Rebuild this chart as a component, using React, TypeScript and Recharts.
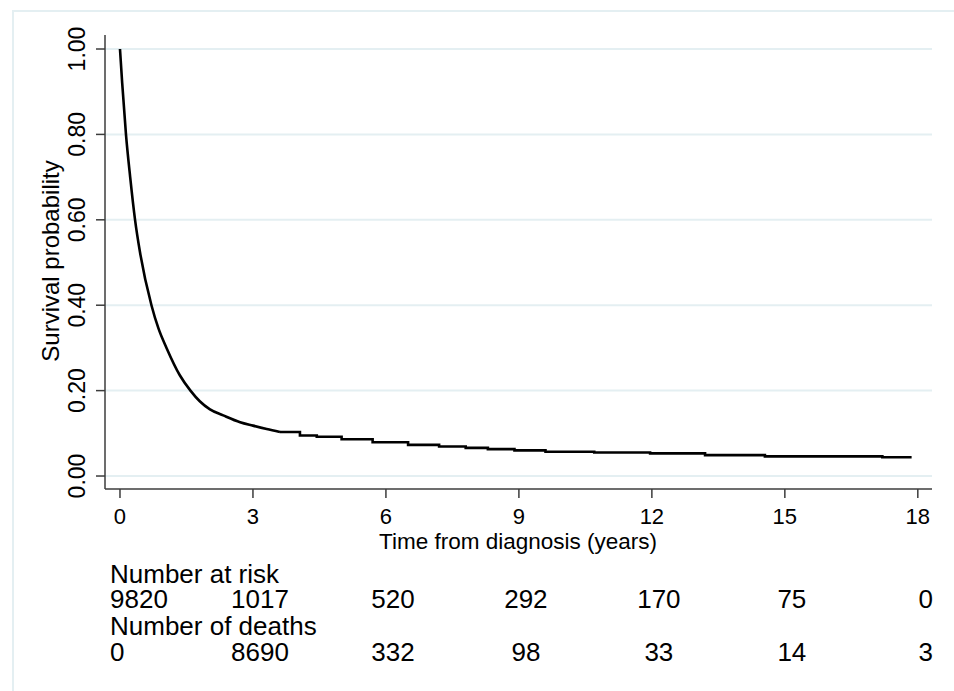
import { CartesianGrid, Line, LineChart, XAxis, YAxis } from "recharts";

// Kaplan-Meier estimate
// early part has so many small steps that it reads as a smooth curve
const earlyTimes = [0, 0.05, 0.135, 0.23, 0.34, 0.45, 0.71, 0.87, 1.05, 1.35, 1.59, 1.8, 2.03, 2.33, 2.71, 3.0, 3.31, 3.61];
const earlySurv = [1.0, 0.92, 0.8, 0.7, 0.6, 0.525, 0.4, 0.345, 0.3, 0.236, 0.2, 0.175, 0.156, 0.142, 0.126, 0.118, 0.11, 0.103];

// later part: visible steps
const tailTimes = [3.61, 4.06, 4.44, 5.0, 5.7, 6.5, 7.2, 7.8, 8.3, 8.9, 9.6, 10.7, 11.96, 13.2, 14.55, 17.2, 17.86];
const tailSurv = [0.103, 0.095, 0.092, 0.086, 0.079, 0.073, 0.069, 0.066, 0.063, 0.06, 0.057, 0.055, 0.053, 0.049, 0.046, 0.044, 0.044];

const xTicks = [0, 3, 6, 9, 12, 15, 18];
const yTicks = [0, 0.2, 0.4, 0.6, 0.8, 1.0];

const tableTimes = [0, 3, 6, 9, 12, 15, 18];
const atRisk = [9820, 1017, 520, 292, 170, 75, 0];
const deaths = [0, 8690, 332, 98, 33, 14, 3];

const earlyData = earlyTimes.map((t, i) => ({ t, s: earlySurv[i] }));
const tailData = tailTimes.map((t, i) => ({ t, s: tailSurv[i] }));

const W = 954;
const H = 691;
const PLOT_LEFT = 105;
const PLOT_RIGHT = 932;
const PLOT_TOP = 35;
const PLOT_BOTTOM = 489;
const X_DOMAIN: [number, number] = [-0.338, 18.32];
const Y_DOMAIN: [number, number] = [-0.0304, 1.0328];

const FONT = "'Liberation Sans', Arial, sans-serif";
const AXIS = "#3c3c3c";
const GRID = "#e4eff2";

const xPix = (t: number) =>
  PLOT_LEFT + ((t - X_DOMAIN[0]) / (X_DOMAIN[1] - X_DOMAIN[0])) * (PLOT_RIGHT - PLOT_LEFT);

function YTick(props: any) {
  const { y, payload } = props;
  return (
    <text
      x={85}
      y={y}
      transform={`rotate(-90 85 ${y})`}
      textAnchor="middle"
      fontFamily={FONT}
      fontSize={23}
      fill="#000"
    >
      {Number(payload.value).toFixed(2)}
    </text>
  );
}

function XTick(props: any) {
  const { x, payload } = props;
  return (
    <text x={x} y={524} textAnchor="middle" fontFamily={FONT} fontSize={22}>
      {payload.value}
    </text>
  );
}

function tableCell(t: number, i: number, last: number, y: number, v: number) {
  let anchor: "start" | "middle" | "end" = "middle";
  let x = xPix(t) + 7;
  if (i === 0) {
    anchor = "start";
    x = 110;
  } else if (i === last) {
    anchor = "end";
    x = 933;
  }
  return (
    <text key={`${y}-${i}`} x={x} y={y} textAnchor={anchor}>
      {v}
    </text>
  );
}

export default function App() {
  return (
    <div
      style={{
        position: "fixed",
        left: 0,
        top: 0,
        width: W,
        height: H,
        background: "#fff",
        overflow: "hidden",
      }}
    >
      <div
        style={{
          position: "absolute",
          left: 12,
          top: 10,
          width: W,
          height: H,
          borderLeft: `2px solid ${GRID}`,
          borderTop: `2px solid ${GRID}`,
        }}
      />
      <div style={{ position: "absolute", left: 0, top: 0 }}>
        <LineChart
          width={W}
          height={H}
          margin={{ top: PLOT_TOP, right: W - PLOT_RIGHT, bottom: 0, left: 0 }}
        >
          <CartesianGrid
            vertical={false}
            stroke={GRID}
            strokeWidth={2}
            horizontalValues={yTicks}
          />
          <XAxis
            type="number"
            dataKey="t"
            domain={X_DOMAIN}
            ticks={xTicks}
            allowDataOverflow
            height={H - PLOT_BOTTOM}
            axisLine={{ stroke: AXIS, strokeWidth: 1.5 }}
            tickLine={{ stroke: AXIS, strokeWidth: 1.5 }}
            tickSize={9}
            tick={<XTick />}
            interval={0}
          />
          <YAxis
            type="number"
            dataKey="s"
            domain={Y_DOMAIN}
            ticks={yTicks}
            allowDataOverflow
            width={PLOT_LEFT}
            axisLine={{ stroke: AXIS, strokeWidth: 1.5 }}
            tickLine={{ stroke: AXIS, strokeWidth: 1.5 }}
            tickSize={9}
            tick={<YTick />}
            interval={0}
          />
          <Line
            data={earlyData}
            dataKey="s"
            type="monotone"
            stroke="#000"
            strokeWidth={2.6}
            dot={false}
            isAnimationActive={false}
          />
          <Line
            data={tailData}
            dataKey="s"
            type="stepAfter"
            stroke="#000"
            strokeWidth={2.6}
            dot={false}
            isAnimationActive={false}
          />
        </LineChart>
      </div>
      <svg
        width={W}
        height={H}
        style={{ position: "absolute", left: 0, top: 0, pointerEvents: "none" }}
        fontFamily={FONT}
        fill="#000"
      >
        <text
          x={59}
          y={261}
          transform="rotate(-90 59 261)"
          textAnchor="middle"
          fontSize={24}
        >
          Survival probability
        </text>
        <text x={518} y={549} textAnchor="middle" fontSize={22.5}>
          Time from diagnosis (years)
        </text>
        <g fontSize={26}>
          <text x={110} y={583}>Number at risk</text>
          {tableTimes.map((t, i) => tableCell(t, i, tableTimes.length - 1, 608, atRisk[i]))}
          <text x={110} y={635}>Number of deaths</text>
          {tableTimes.map((t, i) => tableCell(t, i, tableTimes.length - 1, 661, deaths[i]))}
        </g>
      </svg>
    </div>
  );
}
